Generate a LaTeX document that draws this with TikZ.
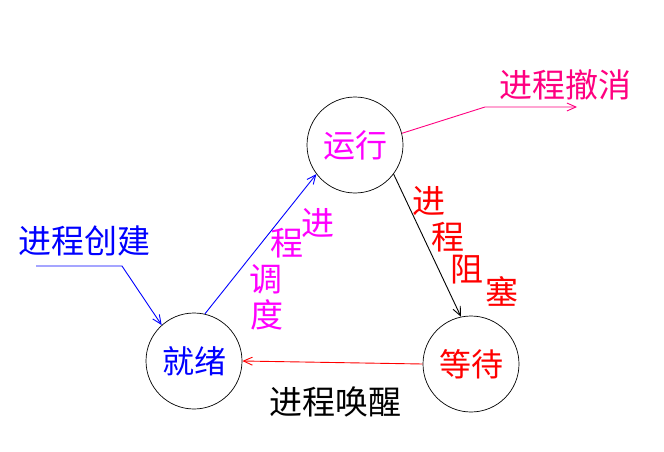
\documentclass[tikz,border=0pt]{standalone}
\usepackage{fontspec}
\newfontfamily\cjk{Noto Sans CJK SC}
\definecolor{runpink}{RGB}{255,0,255}
\definecolor{cancelpink}{RGB}{255,0,128}
\definecolor{readyblue}{RGB}{0,0,255}
\definecolor{waitred}{RGB}{255,0,0}
\usetikzlibrary{arrows.meta}

\begin{document}
\begin{tikzpicture}[x=1pt,y=-1pt]
  \tikzstyle{state}=[circle,draw=black,line width=0.7pt,minimum size=96pt,inner sep=0pt,font=\cjk\fontsize{32}{32}\selectfont]
  \tikzstyle{lbl}=[inner sep=0pt,font=\cjk\fontsize{33}{33}\selectfont]
  \tikzstyle{arr}=[-{Straight Barb[length=9pt,width=8pt]},line width=0.9pt]
  \useasboundingbox (0,0) rectangle (664,452);
  % the three states
  \node[state,text=runpink] (run) at (355,145) {运行};
  \node[state,text=readyblue] (ready) at (194,361) {就绪};
  \node[state,text=waitred] (wait) at (471,364) {等待};
  % labels
  \node[lbl,text=readyblue] (create) at (84,241) {进程创建};
  \node[lbl,text=cancelpink] (cancel) at (565,85) {进程撤消};
  \node[lbl,text=black] (wake) at (335,402) {进程唤醒};
  \foreach \ch/\pos [count=\i] in {进/{(318,223)},程/{(287,243)},调/{(266,279)},度/{(267,315)}}
    \node[lbl,text=runpink] (dis\i) at \pos {\ch};
  \foreach \ch/\pos [count=\i] in {进/{(429,201)},程/{(448,237)},阻/{(467,270)},塞/{(502,291)}}
    \node[lbl,text=waitred] (blk\i) at \pos {\ch};
  % connectors
  \coordinate (crtA) at (36,266);
  \coordinate (crtB) at (122,266);
  \draw[arr,readyblue] (crtA) -- (crtB) -- (ready.132);
  \draw[arr,readyblue] (ready.77) -- (run.217);
  \draw[arr,black] (run.323) -- (wait.102);
  \coordinate (cclB) at (485,107);
  \coordinate (cclC) at (577,107);
  \draw[arr,cancelpink] (run.14) -- (cclB) -- (cclC);
  \draw[arr,waitred] (wait.west) -- (ready.east);
\end{tikzpicture}
\end{document}
